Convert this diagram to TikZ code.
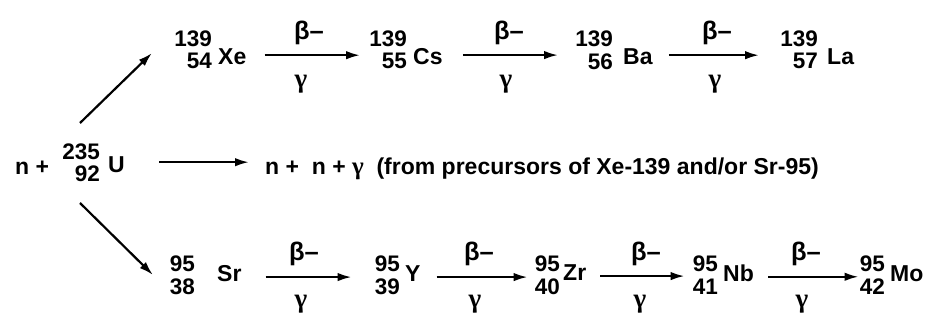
\documentclass[tikz,border=0pt]{standalone}
\usepackage{fontspec}
\setmainfont{Liberation Sans}
\newfontfamily\grk{Liberation Serif}
\usetikzlibrary{arrows.meta}
\newcommand\nstack[3]{\fontsize{22.5}{#3}\selectfont\begin{tabular}[t]{@{}r@{}}#1\\#2\end{tabular}}
\newcommand\gam{{\grk\fontsize{27}{27}\selectfont γ}}
\tikzset{
  txt/.style={inner sep=0pt, font=\fontsize{23}{23}\selectfont\bfseries},
  lab/.style={inner sep=0pt, font=\fontsize{25.5}{25.5}\selectfont\bfseries},
  arr/.style={line width=2.2pt, -{Latex[length=14pt,width=8.5pt]}},
}
\begin{document}
\begin{tikzpicture}[x=1pt,y=-1pt]
\useasboundingbox (0,0) rectangle (927,320);
% ---------- top row
\node[txt,anchor=base east] (xeN) at (212,47) {\nstack{139}{54}{21}};
\node[txt,anchor=base west] (xe) at (218,65) {Xe};
\node[txt,anchor=base east] (csN) at (407,47) {\nstack{139}{55}{21}};
\node[txt,anchor=base west] (cs) at (413,65) {Cs};
\node[txt,anchor=base east] (baN) at (613,47) {\nstack{139}{56}{21}};
\node[txt,anchor=base west] (ba) at (623,65) {Ba};
\node[txt,anchor=base east] (laN) at (818,47) {\nstack{139}{57}{21}};
\node[txt,anchor=base west] (la) at (827,65) {La};
\draw[arr, shorten <=18pt, shorten >=9pt] ([yshift=2pt]xe.east) -- ([yshift=2pt]xe.east -| csN.west);
\draw[arr, shorten <=20pt, shorten >=17pt] ([yshift=2pt]cs.east) -- ([yshift=2pt]cs.east -| baN.west);
\draw[arr, shorten <=16pt, shorten >=21pt] ([yshift=2pt]ba.east) -- ([yshift=2pt]ba.east -| laN.west);
\node[lab] (bt1) at (309,33) {β–};
\node[lab] (gt1) at (301,84) {\gam};
\node[lab] (bt2) at (509,33) {β–};
\node[lab] (gt2) at (506,84) {\gam};
\node[lab] (bt3) at (717,33) {β–};
\node[lab] (gt3) at (715,84) {\gam};
% ---------- middle row
\node[txt,anchor=base west] (nn) at (15,175) {n +};
\node[txt,anchor=base east] (uN) at (100,160) {\nstack{235}{92}{18}};
\node[txt,anchor=base west] (u) at (108,173) {U};
\node[txt,anchor=base west] (prod) at (265,175) {n +\ \ n + {\grk\fontsize{25}{25}\selectfont γ}\ \ (from precursors of Xe-139 and/or Sr-95)};
\draw[arr, shorten <=34pt, shorten >=16pt] ([yshift=3pt]u.east) -- ([yshift=3pt]u.east -| prod.west);
\coordinate (du) at (80,123);
\coordinate (eu) at (152,53);
\coordinate (dl) at (80,203);
\coordinate (el) at (153,275);
\draw[arr] (du) -- (eu);
\draw[arr] (dl) -- (el);
% ---------- bottom row
\node[txt,anchor=base east] (srN) at (195,272) {\nstack{95}{38}{22}};
\node[txt,anchor=base west] (sr) at (217,282) {Sr};
\node[txt,anchor=base east] (yN) at (400,272) {\nstack{95}{39}{22}};
\node[txt,anchor=base west] (yy) at (405,282) {Y};
\node[txt,anchor=base east] (zrN) at (560,272) {\nstack{95}{40}{22}};
\node[txt,anchor=base west] (zr) at (563,281) {Zr};
\node[txt,anchor=base east] (nbN) at (718,272) {\nstack{95}{41}{22}};
\node[txt,anchor=base west] (nb) at (723,282) {Nb};
\node[txt,anchor=base east] (moN) at (885,272) {\nstack{95}{42}{22}};
\node[txt,anchor=base west] (mo) at (890,282) {Mo};
\draw[arr, shorten <=24pt, shorten >=23pt] ([yshift=-3pt]sr.east) -- ([yshift=-3pt]sr.east -| yN.west);
\draw[arr, shorten <=16pt, shorten >=7pt] ([yshift=-3pt]yy.east) -- ([yshift=-3pt]yy.east -| zrN.west);
\draw[arr, shorten <=14pt, shorten >=8pt] ([yshift=-3pt]zr.east) -- ([yshift=-3pt]zr.east -| nbN.west);
\draw[arr, shorten <=14pt, shorten >=1pt] ([yshift=-3pt]nb.east) -- ([yshift=-3pt]nb.east -| moN.west);
\node[lab] (bb1) at (304,254) {β–};
\node[lab] (gb1) at (301,304) {\gam};
\node[lab] (bb2) at (479,254) {β–};
\node[lab] (gb2) at (475,304) {\gam};
\node[lab] (bb3) at (646,254) {β–};
\node[lab] (gb3) at (640,304) {\gam};
\node[lab] (bb4) at (806,254) {β–};
\node[lab] (gb4) at (802,304) {\gam};
\end{tikzpicture}
\end{document}
